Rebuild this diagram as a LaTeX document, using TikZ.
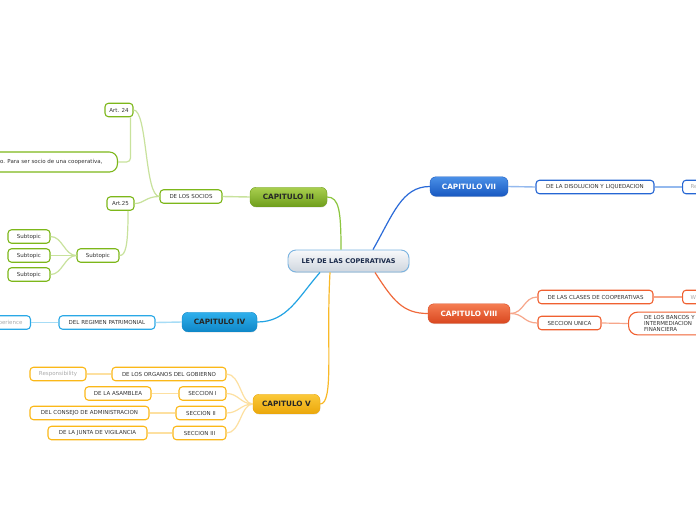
\documentclass[tikz,border=0pt]{standalone}
\usepackage{fontspec}
\setmainfont{DejaVu Sans}
\usetikzlibrary{shadows}
\definecolor{grB}{HTML}{7DB71A}
\definecolor{grL}{HTML}{C8E29C}
\definecolor{grC}{HTML}{8CC63F}
\definecolor{grT}{HTML}{A9CF4F}
\definecolor{grD}{HTML}{6F9E1C}
\definecolor{blB}{HTML}{2566D4}
\definecolor{blL}{HTML}{94B9EE}
\definecolor{blC}{HTML}{2A6AD8}
\definecolor{blT}{HTML}{4A90E8}
\definecolor{blD}{HTML}{1858C0}
\definecolor{orB}{HTML}{F06030}
\definecolor{orL}{HTML}{F7A68A}
\definecolor{orC}{HTML}{F06A3C}
\definecolor{orT}{HTML}{F57D52}
\definecolor{orD}{HTML}{D9471F}
\definecolor{cyB}{HTML}{2AA8E6}
\definecolor{cyL}{HTML}{A6DCF6}
\definecolor{cyC}{HTML}{22A3E3}
\definecolor{cyT}{HTML}{30B0EC}
\definecolor{cyD}{HTML}{0F87C8}
\definecolor{yeB}{HTML}{FBB818}
\definecolor{yeL}{HTML}{FDE0A0}
\definecolor{yeC}{HTML}{F9B928}
\definecolor{yeT}{HTML}{FBC93A}
\definecolor{yeD}{HTML}{EBA70A}
\definecolor{ceT}{HTML}{F8F9FB}
\definecolor{ceD}{HTML}{CFD6DE}
\definecolor{ceB}{HTML}{7AB3E0}
\definecolor{ceX}{HTML}{1A2A4A}
\definecolor{txt}{HTML}{333333}
\definecolor{gtx}{HTML}{AAAAAA}
\tikzset{
  sub/.style={draw, fill=white, rounded corners=3.5pt, line width=1.1pt,
    font=\fontsize{5.5}{6.6}\selectfont, text=txt, inner sep=0pt, minimum height=13.5pt},
  chap/.style={rounded corners=6pt, minimum height=19.5pt, inner sep=0pt,
    font=\bfseries\fontsize{7.3}{8}\selectfont,
    drop shadow={opacity=0.2, shadow xshift=0.4pt, shadow yshift=-0.8pt}},
  lk/.style={line width=1.4pt},
  ck/.style={line width=1.2pt},
}
\begin{document}
\begin{tikzpicture}[x=1pt,y=-1pt]
\useasboundingbox (0,0) rectangle (696,520);
\clip (0,0) rectangle (696,520);
\fill[white] (0,0) rectangle (696,520);

% ---------- nodes ----------
\node[chap, draw=ceB, line width=0.9pt, top color=ceT, bottom color=ceD, text=ceX,
  minimum width=121pt, minimum height=22pt, rounded corners=8pt,
  font=\bfseries\fontsize{6.5}{7.5}\selectfont] (center) at (348.5,261) {LEY DE LAS COPERATIVAS};

\node[chap, top color=grT, bottom color=grD, draw=grD, text=black!85, minimum width=77pt] (c3) at (288.5,197) {CAPITULO III};
\node[chap, top color=blT, bottom color=blD, draw=blD, text=white, minimum width=78pt] (c7) at (469,186.5) {CAPITULO VII};
\node[chap, top color=orT, bottom color=orD, draw=orD, text=white, minimum width=82pt] (c8) at (469,313.5) {CAPITULO VIII};
\node[chap, top color=cyT, bottom color=cyD, draw=cyD, text=black!85, minimum width=75pt] (c4) at (219.5,322) {CAPITULO IV};
\node[chap, top color=yeT, bottom color=yeD, draw=yeD, text=black!85, minimum width=67pt] (c5) at (286.5,404) {CAPITULO V};

% green branch
\node[sub, draw=grB, minimum width=62pt] (socios) at (191,196.5) {DE LOS SOCIOS};
\node[sub, draw=grB, minimum width=28pt] (art24) at (119,110) {Art. 24};
\node[sub, draw=grB, minimum width=27pt] (art25) at (120.5,203.5) {Art.25};
\node[sub, draw=grB, anchor=east, minimum height=20pt, rounded corners=8pt, inner xsep=15pt] (txtbox) at (118,162) {lo. Para ser socio de una cooperativa,};
\node[sub, draw=grB, minimum width=42pt] (subp) at (98,255.5) {Subtopic};
\node[sub, draw=grB, minimum width=42pt] (s1) at (29,236.5) {Subtopic};
\node[sub, draw=grB, minimum width=42pt] (s2) at (29,255.5) {Subtopic};
\node[sub, draw=grB, minimum width=42pt] (s3) at (29,274.5) {Subtopic};

% cyan branch
\node[sub, draw=cyB, minimum width=96pt] (regimen) at (107,322.5) {DEL REGIMEN PATRIMONIAL};
\node[sub, draw=cyB, anchor=east, inner xsep=8pt, text=gtx] (exper) at (31,322.5) {perience};

% yellow branch
\node[sub, draw=yeB, minimum width=114pt] (organos) at (169,374) {DE LOS ORGANOS DEL GOBIERNO};
\node[sub, draw=yeB, minimum width=56pt, text=gtx] (resp) at (58,374) {Responsibility};
\node[sub, draw=yeB, minimum width=47pt] (sec1) at (202.5,393.5) {SECCION I};
\node[sub, draw=yeB, minimum width=66pt] (asamblea) at (118,393.5) {DE LA ASAMBLEA};
\node[sub, draw=yeB, minimum width=50pt] (sec2) at (201,413) {SECCION II};
\node[sub, draw=yeB, minimum width=119pt] (consejo) at (89.5,413) {DEL CONSEJO DE ADMINISTRACION};
\node[sub, draw=yeB, minimum width=53pt] (sec3) at (199.5,433) {SECCION III};
\node[sub, draw=yeB, minimum width=99pt] (junta) at (97.5,433) {DE LA JUNTA DE VIGILANCIA};

% blue branch
\node[sub, draw=blB, minimum width=118pt] (disol) at (595,187) {DE LA DISOLUCION Y LIQUEDACION};
\node[sub, draw=blB, anchor=west, inner xsep=8pt, minimum width=30pt, text=gtx, align=left, text width=14pt] (re) at (682,187) {Re};

% orange branch
\node[sub, draw=orB, minimum width=115pt] (clases) at (595.5,297) {DE LAS CLASES DE COOPERATIVAS};
\node[sub, draw=orB, anchor=west, inner xsep=8pt, minimum width=30pt, text=gtx, align=left, text width=14pt] (w) at (682,297) {W};
\node[sub, draw=orB, minimum width=63pt] (unica) at (569.5,323) {SECCION UNICA};
\node[sub, draw=orB, anchor=west, align=left, inner xsep=15.5pt, inner ysep=3pt, rounded corners=9pt,
  font=\fontsize{5.5}{6.3}\selectfont, text width=62pt] (bancos) at (628,323.5) {DE LOS BANCOS Y\\INTERMEDIACION\\FINANCIERA};

% ---------- connectors ----------
\draw[ck, grC] ([xshift=-7.5pt]center.north) .. controls +(0,-38) and +(12,0) .. (c3.east);
\draw[ck, blC] ([xshift=24.5pt]center.north) .. controls +(20,-35) and +(-28,0) .. (c7.west);
\draw[ck, orC] ([xshift=26.5pt]center.south) .. controls +(18,28) and +(-25,0) .. (c8.west);
\draw[ck, cyC] ([xshift=-28.5pt]center.south) .. controls +(-22,25) and +(30,0) .. (c4.east);
\draw[ck, yeC] ([xshift=-18.5pt]center.south) .. controls +(-4,70) and +(14,0) .. (c5.east);

% green
\draw[lk, grL] (c3.west) -- (socios.east);
\draw[ck, grL] (socios.west) .. controls +(-15,0) and +(14,0) .. (art24.east);
\draw[ck, grL] (socios.west) .. controls +(-14,0) and +(10,0) .. (art25.east);
\draw[ck, grL, rounded corners=4pt] ([xshift=-3pt]art24.south east) |- (txtbox.east);
\draw[ck, grL] ([xshift=-6.5pt]art25.south east) .. controls +(0,36) and +(6,0) .. (subp.east);
\draw[ck, grL] (subp.west) .. controls +(-12,0) and +(12,0) .. (s1.east);
\draw[lk, grL] (subp.west) -- (s2.east);
\draw[ck, grL] (subp.west) .. controls +(-12,0) and +(12,0) .. (s3.east);

% cyan
\draw[lk, cyL] (c4.west) -- (regimen.east);
\draw[lk, cyL] (regimen.west) -- (exper.east);

% yellow
\draw[ck, yeL] (c5.west) .. controls +(-12,0) and +(14,0) .. (organos.east);
\draw[ck, yeL] (c5.west) .. controls +(-12,0) and +(12,0) .. (sec1.east);
\draw[ck, yeL] (c5.west) .. controls +(-12,0) and +(12,0) .. (sec2.east);
\draw[ck, yeL] (c5.west) .. controls +(-12,0) and +(14,0) .. (sec3.east);
\draw[lk, yeL] (organos.west) -- (resp.east);
\draw[lk, yeL] (sec1.west) -- (asamblea.east);
\draw[lk, yeL] (sec2.west) -- (consejo.east);
\draw[lk, yeL] (sec3.west) -- (junta.east);

% blue
\draw[lk, blL] (c7.east) -- (disol.west);
\draw[ck, blL] (disol.east) -- (re.west);

% orange
\draw[ck, orL] (c8.east) .. controls +(14,0) and +(-14,0) .. (clases.west);
\draw[ck, orL] (c8.east) .. controls +(14,0) and +(-14,0) .. (unica.west);
\draw[ck, orL] (clases.east) -- (w.west);
\draw[ck, orL] (unica.east) -- (bancos.west);
\end{tikzpicture}
\end{document}
